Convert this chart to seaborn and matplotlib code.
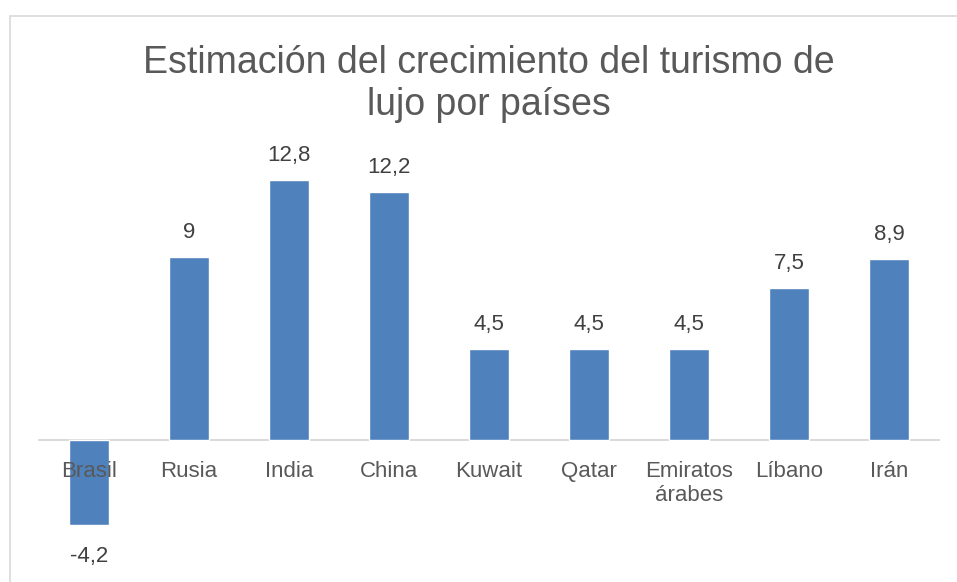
import matplotlib
matplotlib.use("Agg")
import matplotlib.pyplot as plt
import seaborn as sns
import pandas as pd
from matplotlib.patches import Rectangle

categories = ["Brasil", "Rusia", "India", "China", "Kuwait", "Qatar",
              "Emiratos\nárabes", "Líbano", "Irán"]
values = [-4.2, 9, 12.8, 12.2, 4.5, 4.5, 4.5, 7.5, 8.9]
title = "Estimación del crecimiento del turismo de\nlujo por países"

sns.set_theme(style="white")
plt.rcParams['font.family'] = ['Liberation Sans', 'DejaVu Sans']

W, H = 957, 582
fig = plt.figure(figsize=(W / 100, H / 100), dpi=100)
fig.patch.set_facecolor("white")

# chart border (extends past right/bottom edges)
fig.patches.append(Rectangle((10 / W, -0.1), 1.2, 1 - 16 / H + 0.1,
                             transform=fig.transFigure, fill=False,
                             edgecolor="#D9D9D9", linewidth=1.2))

px_per_unit = 20.3
zero_px = 440
top_px, bot_px = 140, 560
ax = fig.add_axes([39 / W, 1 - bot_px / H, 900 / W, (bot_px - top_px) / H])
ax.set_facecolor("none")

df = pd.DataFrame({"cat": categories, "val": values})
sns.barplot(data=df, x="cat", y="val", color="#4F81BD", saturation=1,
            width=0.4, ax=ax, zorder=1)

ax.set_xlim(-0.5, len(categories) - 0.5)
ax.set_ylim(-(bot_px - zero_px) / px_per_unit, (zero_px - top_px) / px_per_unit)

ax.set_axisbelow(False)
for s in ["top", "right", "left"]:
    ax.spines[s].set_visible(False)
ax.spines["bottom"].set_position(("data", 0))
ax.spines["bottom"].set_color("#D9D9D9")
ax.spines["bottom"].set_linewidth(1.4)
ax.spines["bottom"].set_zorder(0.5)
ax.set_yticks([])
ax.tick_params(axis="x", length=0, pad=15, labelsize=16, labelcolor="#595959")
ax.set_xlabel("")
ax.set_ylabel("")
for t in ax.get_xticklabels():
    t.set_zorder(5)

for i, v in enumerate(values):
    lab = f"{v:g}".replace(".", ",")
    if v >= 0:
        ax.annotate(lab, (i, v), xytext=(0, 10), textcoords="offset points",
                    ha="center", va="bottom", fontsize=16, color="#404040")
    else:
        ax.annotate(lab, (i, v), xytext=(0, -15), textcoords="offset points",
                    ha="center", va="top", fontsize=16, color="#404040")

fig.text(489 / W, 1 - 45 / H, title, ha="center", va="top", fontsize=27,
         color="#595959", linespacing=1.22)

fig.savefig("out.png", dpi=100)
